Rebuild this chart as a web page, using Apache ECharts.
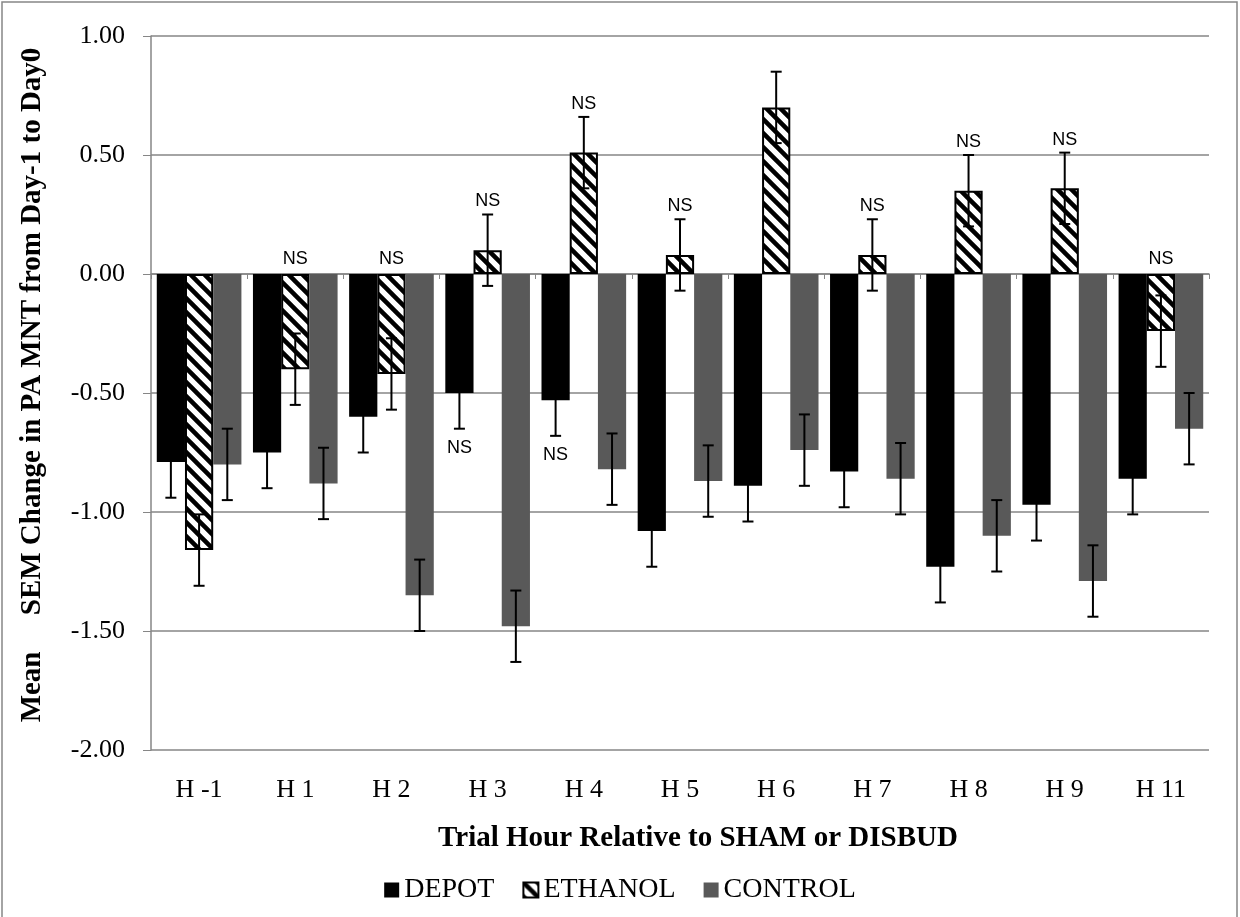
<!DOCTYPE html>
<html>
<head>
<meta charset="utf-8">
<script src="https://cdn.jsdelivr.net/npm/echarts@6/dist/echarts.min.js"></script>
<style>
  html, body { margin: 0; padding: 0; background: #fff; }
  #main { width: 1240px; height: 917px; }
</style>
</head>
<body>
<div id="main"></div>
<script>
// 数据
var categories = ['H -1', 'H 1', 'H 2', 'H 3', 'H 4', 'H 5', 'H 6', 'H 7', 'H 8', 'H 9', 'H 11'];
var depot   = [-0.79, -0.75, -0.60, -0.50, -0.53, -1.08, -0.89, -0.83, -1.23, -0.97, -0.86];
var ethanol = [-1.16, -0.40, -0.42,  0.10,  0.51,  0.08,  0.70,  0.08,  0.35,  0.36, -0.24];
var control = [-0.80, -0.88, -1.35, -1.48, -0.82, -0.87, -0.74, -0.86, -1.10, -1.29, -0.65];
// SEM
var depotSem   = [0.15, 0.15, 0.15, 0.15, 0.15, 0.15, 0.15, 0.15, 0.15, 0.15, 0.15];
var ethanolSem = [0.15, 0.15, 0.15, 0.15, 0.15, 0.15, 0.15, 0.15, 0.15, 0.15, 0.15];
var controlSem = [0.15, 0.15, 0.15, 0.15, 0.15, 0.15, 0.15, 0.15, 0.15, 0.15, 0.15];
// NS 标注 (1 = 显示)
var nsDepot   = [0, 0, 0, 1, 1, 0, 0, 0, 0, 0, 0];
var nsEthanol = [0, 1, 1, 1, 1, 1, 0, 1, 1, 1, 1];
var nsControl = [0, 0, 0, 0, 0, 0, 0, 0, 0, 0, 0];
var yTicks = { min: -2, max: 1, step: 0.5 };

var serif = '"Liberation Serif", "Times New Roman", serif';
var gridColor = '#868686';
var catGap = 0.12;

// 斜线填充
var cv = document.createElement('canvas');
cv.width = 14; cv.height = 14;
var ctx = cv.getContext('2d');
ctx.fillStyle = '#fff';
ctx.fillRect(0, 0, 14, 14);
ctx.strokeStyle = '#000';
ctx.lineWidth = 4.5;
ctx.beginPath();
[-1, 0, 1].forEach(function (k) {
    ctx.moveTo(k * 14 - 3, -3);
    ctx.lineTo(k * 14 + 17, 17);
});
ctx.stroke();
var hatch = { image: cv, repeat: 'repeat' };

// 误差线数据
var errData = [];
[[depot, depotSem, nsDepot], [ethanol, ethanolSem, nsEthanol], [control, controlSem, nsControl]].forEach(function (d, s) {
    d[0].forEach(function (v, i) {
        errData.push([i, v, d[1][i], s, d[2][i]]);
    });
});

function renderErr(params, api) {
    var i = api.value(0), v = api.value(1), e = api.value(2), s = api.value(3), ns = api.value(4);
    var band = api.size([1, 0])[0];
    var bw = band * (1 - catGap) / 3;
    var x = api.coord([i, v])[0] + (s - 1) * bw;
    var top = api.coord([i, v + e])[1];
    var bot = api.coord([i, v - e])[1];
    var cap = 5.5;
    var st = { stroke: '#000', lineWidth: 2 };
    var children = [
        { type: 'line', shape: { x1: x, y1: top, x2: x, y2: bot }, style: st },
        { type: 'line', shape: { x1: x - cap, y1: top, x2: x + cap, y2: top }, style: st },
        { type: 'line', shape: { x1: x - cap, y1: bot, x2: x + cap, y2: bot }, style: st }
    ];
    if (ns) {
        var y, va;
        if (s === 0) { y = bot + 10; va = 'top'; }
        else if (v < 0) { y = api.coord([i, 0])[1] - 6; va = 'bottom'; }
        else { y = top - 4; va = 'bottom'; }
        children.push({
            type: 'text',
            style: { text: 'NS', x: x, y: y, align: 'center', verticalAlign: va,
                     font: '18px "Liberation Sans", Arial, sans-serif', fill: '#000' }
        });
    }
    return { type: 'group', children: children };
}

var myChart = echarts.init(document.getElementById('main'));

var option = {
    animation: false,
    backgroundColor: '#fff',
    grid: { left: 151, right: 31, top: 36, bottom: 167 },
    legend: {
        top: 871,
        left: 'center',
        itemWidth: 15,
        itemHeight: 15,
        itemGap: 28,
        icon: 'rect',
        textStyle: { fontFamily: serif, fontSize: 28, color: '#000' },
        data: ['DEPOT', 'ETHANOL', 'CONTROL']
    },
    graphic: [{
        type: 'rect',
        shape: { x: 2, y: 2, width: 1235, height: 930 },
        style: { fill: 'none', stroke: gridColor, lineWidth: 1.5 },
        silent: true
    }],
    xAxis: [
        { // 零线处的坐标轴
            type: 'category',
            data: categories,
            axisLine: { onZero: true, lineStyle: { color: gridColor, width: 1.5 } },
            axisTick: { show: true, length: 5, lineStyle: { color: gridColor } },
            axisLabel: { show: false }
        },
        { // 底部标签
            type: 'category',
            data: categories,
            position: 'bottom',
            axisLine: { show: false, onZero: false },
            axisTick: { show: false },
            axisLabel: { margin: 27, fontFamily: serif, fontSize: 26, color: '#000' },
            name: 'Trial Hour Relative to SHAM or DISBUD',
            nameLocation: 'middle',
            nameGap: 74,
            nameTextStyle: { fontFamily: serif, fontSize: 29, fontWeight: 'bold', color: '#000', padding: [0, 0, 0, 36] }
        }
    ],
    yAxis: {
        type: 'value',
        min: yTicks.min,
        max: yTicks.max,
        interval: yTicks.step,
        axisLine: { show: true, lineStyle: { color: gridColor, width: 1.5 } },
        axisTick: { show: true, length: 8, lineStyle: { color: gridColor } },
        splitLine: { lineStyle: { color: gridColor, width: 1.5 } },
        axisLabel: {
            margin: 26, fontFamily: serif, fontSize: 26, color: '#000',
            formatter: function (v) { return v.toFixed(2); }
        },
        name: 'Mean     SEM Change in PA MNT from Day-1 to Day0',
        nameLocation: 'middle',
        nameGap: 104,
        nameTextStyle: { fontFamily: serif, fontSize: 29, fontWeight: 'bold', color: '#000', padding: [0, 0, 0, 16] }
    },
    series: [
        {
            name: 'DEPOT', type: 'bar', data: depot,
            barGap: '0%', barCategoryGap: (catGap * 100) + '%',
            itemStyle: { color: '#000' }
        },
        {
            name: 'ETHANOL', type: 'bar', data: ethanol,
            itemStyle: { color: hatch, borderColor: '#000', borderWidth: 2 }
        },
        {
            name: 'CONTROL', type: 'bar', data: control,
            itemStyle: { color: '#595959' }
        },
        {
            name: 'SEM', type: 'custom', data: errData,
            renderItem: renderErr,
            encode: { x: 0, y: 1 },
            z: 10, silent: true
        }
    ]
};

myChart.setOption(option);
</script>
</body>
</html>
